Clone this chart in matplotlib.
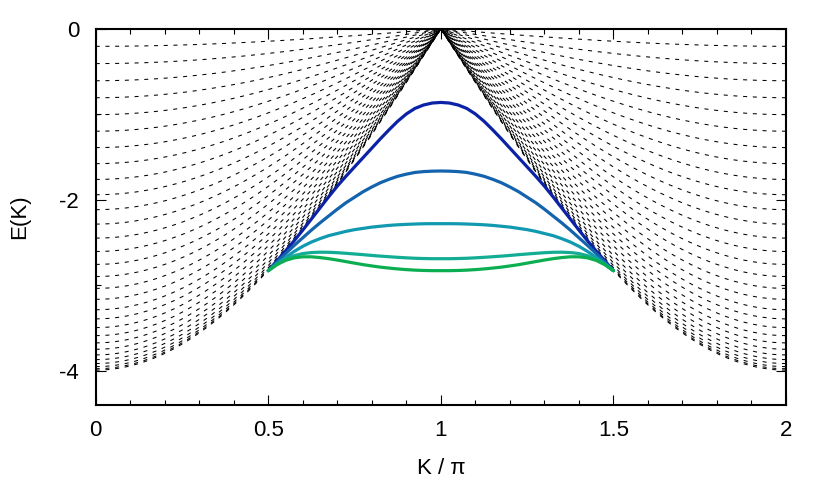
import numpy as np
import matplotlib
matplotlib.use("Agg")
import matplotlib.pyplot as plt
from matplotlib.ticker import MultipleLocator

plt.rcParams['font.family'] = ['Liberation Sans', 'DejaVu Sans']
plt.rcParams['axes.unicode_minus'] = False
plt.rcParams['lines.scale_dashes'] = False

# ---- data ----
# continuum levels: E at K=0 of each dashed continuum curve
continuum_levels = [0.203, 0.405, 0.606, 0.805, 1.003, 1.197, 1.389, 1.577,
                    1.762, 1.941, 2.116, 2.285, 2.449, 2.606, 2.757, 2.899,
                    3.038, 3.166, 3.288, 3.395, 3.497, 3.591, 3.676, 3.751,
                    3.817, 3.872, 3.918, 3.954, 3.979, 3.995]

# bound-state curves (K in units of pi), left half 0.5..1.0; the chart is symmetric about K=1
bound_K_half = [0.5, 0.525, 0.55, 0.575, 0.6, 0.625, 0.65, 0.675, 0.7, 0.725, 0.75,
                0.775, 0.8, 0.825, 0.85, 0.875, 0.9, 0.925, 0.95, 0.975, 1.0]
bound_1 = [-2.83, -2.715, -2.60, -2.48, -2.355, -2.225, -2.095, -1.965, -1.84, -1.725, -1.615,
           -1.505, -1.395, -1.285, -1.18, -1.08, -0.995, -0.93, -0.89, -0.867, -0.86]
bound_2 = [-2.83, -2.73, -2.63, -2.535, -2.445, -2.355, -2.27, -2.19, -2.11, -2.035, -1.97,
           -1.905, -1.85, -1.80, -1.76, -1.725, -1.70, -1.68, -1.67, -1.665, -1.663]
bound_3 = [-2.83, -2.75, -2.675, -2.605, -2.545, -2.495, -2.455, -2.42, -2.395, -2.37, -2.35,
           -2.335, -2.32, -2.31, -2.30, -2.293, -2.288, -2.284, -2.281, -2.28, -2.28]
bound_4 = [-2.83, -2.755, -2.695, -2.655, -2.63, -2.618, -2.614, -2.615, -2.62, -2.627, -2.635,
           -2.643, -2.652, -2.66, -2.667, -2.674, -2.68, -2.685, -2.688, -2.69, -2.69]
bound_5 = [-2.83, -2.76, -2.71, -2.68, -2.668, -2.668, -2.677, -2.69, -2.706, -2.724, -2.742,
           -2.76, -2.775, -2.789, -2.80, -2.81, -2.818, -2.824, -2.828, -2.83, -2.83]
bound_curves = [bound_1, bound_2, bound_3, bound_4, bound_5]
bound_colors = ['#0b22a6', '#1463ad', '#1199b0', '#12ad94', '#0cae52']

x_ticks = [0, 0.5, 1, 1.5, 2]
x_ticklabels = ['0', '0.5', '1', '1.5', '2']
y_ticks = [-4, -2, 0]
y_ticklabels = ['-4', '-2', '0']

# ---- figure ----
fig = plt.figure(figsize=(8.3, 4.88), dpi=100)
ax = fig.add_axes([95.7 / 830, 1 - 404.7 / 488, (786 - 95.7) / 830, (404.7 - 29) / 488])

K_left = np.linspace(0, 1, 400)
K_right = np.linspace(2, 1, 400)
for A in continuum_levels:
    for Kb in (K_left, K_right):
        ax.plot(Kb, -A * np.abs(np.cos(np.pi * Kb / 2)), color='black', lw=0.75,
                ls=(0, (2.9, 4.1)), zorder=1)

K_full = bound_K_half + [2 - k for k in bound_K_half[-2::-1]]
for vals, c in zip(bound_curves, bound_colors):
    full = vals + vals[-2::-1]
    ax.plot(K_full, full, color=c, lw=2.3, zorder=3, solid_capstyle='round',
            solid_joinstyle='round')

ax.set_xlim(0, 2)
ax.set_ylim(-4.4, 0)
ax.set_xticks(x_ticks)
ax.set_xticklabels(x_ticklabels)
ax.set_yticks(y_ticks)
ax.set_yticklabels(y_ticklabels)
ax.xaxis.set_minor_locator(MultipleLocator(0.1))
ax.yaxis.set_minor_locator(MultipleLocator(1))
ax.tick_params(which='both', direction='in', top=True, right=True, width=0.8,
               labelsize=16)
ax.tick_params(which='major', length=7.5)
ax.tick_params(which='minor', length=3.8)
ax.tick_params(axis='x', which='major', pad=11)
ax.tick_params(axis='y', which='major', pad=12)
for s in ax.spines.values():
    s.set_linewidth(1.5)

fig.text(441.5 / 830, 1 - 468 / 488, 'K / π', ha='center', va='center', fontsize=16)
fig.text(20 / 830, 1 - 217 / 488, 'E(K)', ha='center', va='center', rotation=90, fontsize=16)

fig.savefig('out.png', dpi=100)
